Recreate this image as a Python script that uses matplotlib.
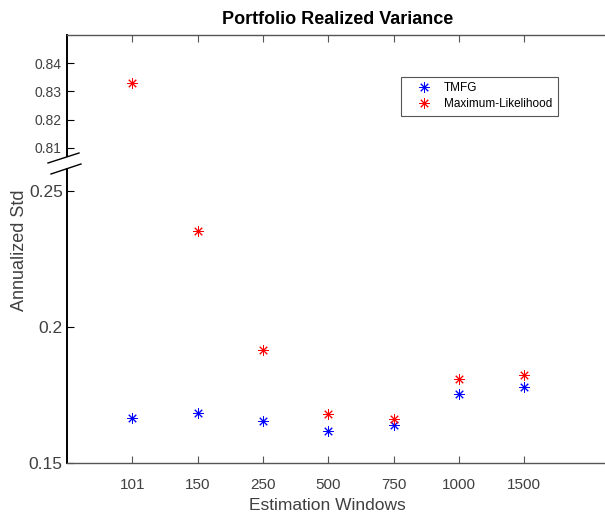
import matplotlib
matplotlib.use("Agg")
import matplotlib.pyplot as plt
from matplotlib.lines import Line2D

plt.rcParams['font.family'] = ['Liberation Sans', 'DejaVu Sans']

windows = ['101', '150', '250', '500', '750', '1000', '1500']
tmfg = [0.1667, 0.1685, 0.1654, 0.1618, 0.1640, 0.1754, 0.1778]
max_lik = [0.8331, 0.2353, 0.1915, 0.1679, 0.1661, 0.1809, 0.1824]

upper_ticks = [0.81, 0.82, 0.83, 0.84]
lower_ticks = [0.15, 0.2, 0.25]
lower_tick_labels = ['0.15', '0.2', '0.25']

W, H = 605, 515
grey = '#404040'


def fx(x):
    return x / W


def fy(y):
    return 1 - y / H


fig = plt.figure(figsize=(W / 100, H / 100), dpi=100)
left, right = 67, 609
ax_up = fig.add_axes([fx(left), fy(156), fx(right - left), fy(35) - fy(156)])
ax_lo = fig.add_axes([fx(left), fy(463), fx(right - left), fy(169) - fy(463)])

x = list(range(1, len(windows) + 1))
mk = dict(marker=(8, 2, 0), markersize=7.5, markeredgewidth=0.7, linestyle='none')
for ax in (ax_up, ax_lo):
    ax.plot(x, tmfg, color='blue', label='TMFG', **mk)
    ax.plot(x, max_lik, color='red', label='Maximum-Likelihood', **mk)
    ax.set_xlim(0, 8.3)
    ax.set_xticks(x)
    ax.spines['right'].set_visible(False)
    ax.spines['left'].set_color('black')
    ax.spines['left'].set_linewidth(1.4)
    for s in ('top', 'bottom'):
        ax.spines[s].set_color('#555555')
        ax.spines[s].set_linewidth(1.0)
    ax.tick_params(direction='in', length=5, width=0.8, colors='#555555',
                   labelcolor=grey)

# upper part
ax_up.set_ylim(0.807, 0.8501)
ax_up.set_yticks(upper_ticks)
ax_up.set_yticklabels([f'{t:.2f}' for t in upper_ticks])
ax_up.spines['bottom'].set_visible(False)
ax_up.tick_params(axis='x', bottom=False, top=True, labelbottom=False)
ax_up.tick_params(axis='y', labelsize=10, pad=4, color='black')

# lower part
ax_lo.set_ylim(0.15, 0.2581)
ax_lo.set_yticks(lower_ticks)
ax_lo.set_yticklabels(lower_tick_labels)
ax_lo.spines['top'].set_visible(False)
ax_lo.set_xticklabels(windows)
ax_lo.tick_params(axis='x', labelsize=11, pad=11)
ax_lo.tick_params(axis='y', labelsize=12.5, pad=3, color='black')

# break marks
for (x0, y0, x1, y1) in [(48, 163, 79, 153), (51, 174, 81, 164)]:
    fig.add_artist(Line2D([fx(x0), fx(x1)], [fy(y0), fy(y1)],
                          transform=fig.transFigure, color='black', lw=1.0))

leg = ax_up.legend(loc='upper left', bbox_to_anchor=(fx(401), fy(77)),
                   bbox_transform=fig.transFigure, fontsize=8.5, frameon=True,
                   fancybox=False, edgecolor='#555555', framealpha=1,
                   handlelength=3.0, handletextpad=0.2, borderpad=0.45,
                   labelspacing=0.35, borderaxespad=0)
leg.get_frame().set_linewidth(0.8)

fig.text(fx(338), fy(20), 'Portfolio Realized Variance', ha='center',
         va='center', fontsize=13, fontweight='bold')
fig.text(fx(327), fy(505), 'Estimation Windows', ha='center', va='center',
         fontsize=12.5, color=grey)
fig.text(fx(20), fy(250), 'Annualized Std', ha='center', va='center',
         rotation=90, fontsize=13, color=grey)

fig.savefig('out.png', dpi=100)
